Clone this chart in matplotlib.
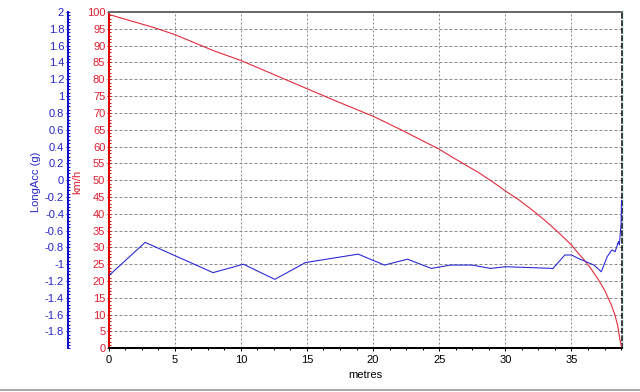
import matplotlib
matplotlib.use("Agg")
import matplotlib.pyplot as plt
from matplotlib.ticker import MultipleLocator
from matplotlib.lines import Line2D

plt.rcParams['font.family'] = ['Liberation Sans', 'DejaVu Sans']

# ---- data ----
dist_speed = [0, 3.5, 5, 8, 10, 12.8, 15, 17.4, 20, 21, 22, 23, 24, 25, 26, 27,
              28, 29, 30, 31, 32, 33, 34, 35, 35.5, 36, 36.5, 37, 37.5, 38,
              38.3, 38.5, 38.65, 38.78]
speed_kmh = [99.3, 95.3, 93.3, 88.4, 85.6, 80.9, 77.2, 73.2, 69.0, 67.1, 65.2,
             63.2, 61.2, 59.2, 56.8, 54.5, 52.2, 49.6, 46.8, 44.2, 41.2, 38.0,
             34.5, 30.7, 28.3, 26.1, 23.5, 20.6, 17.3, 13.0, 9.7, 6.6, 2.8, 0.5]

dist_acc = [0, 2.77, 7.9, 10.2, 12.57, 14.9, 18.87, 20.86, 22.6, 24.4, 25.85,
            27.5, 28.87, 30.0, 31.9, 33.6, 34.5, 35.0, 35.5, 36.7, 37.25, 37.7,
            38.05, 38.3, 38.55, 38.62, 38.75, 38.78]
long_acc = [-1.14, -0.74, -1.10, -1.00, -1.18, -0.98, -0.88, -1.01, -0.94,
            -1.05, -1.01, -1.01, -1.05, -1.03, -1.04, -1.05, -0.89, -0.89,
            -0.93, -1.01, -1.09, -0.91, -0.83, -0.85, -0.73, -0.77, -0.51, -0.24]

x_ticks = [0, 5, 10, 15, 20, 25, 30, 35]
kmh_ticks = list(range(0, 101, 5))
g_ticks = [2, 1.8, 1.6, 1.4, 1.2, 1, 0.8, 0.6, 0.4, 0.2, 0, -0.2, -0.4, -0.6,
           -0.8, -1, -1.2, -1.4, -1.6, -1.8]

BLUE = '#2424c8'
RED = '#dc1e32'
W, H = 640, 392
px = 72.0 / 100  # points per pixel

fig = plt.figure(figsize=(W / 100, H / 100), dpi=100)
L, R, T, B = 108.5, 621.5, 12.0, 348.3
ax = fig.add_axes([L / W, 1 - B / H, (R - L) / W, (B - T) / H])
ax.set_xlim(0, 38.78)
ax.set_ylim(0, 100)

# grid
for xv in x_ticks[1:]:
    ax.axvline(xv, color='#8c8c8c', lw=1 * px, ls=(0, (2, 2)), zorder=0.5)
for yv in kmh_ticks[1:-1]:
    ax.axhline(yv, color='#8c8c8c', lw=1 * px, ls=(0, (3, 2)), zorder=0.5)

ax.plot(dist_speed, speed_kmh, color='#e02a3a', lw=1.1 * px, zorder=3)

# main axis styling
ax.spines['left'].set_color('#e00000')
ax.spines['left'].set_linewidth(2 * px)
ax.spines['bottom'].set_color('black')
ax.spines['bottom'].set_linewidth(2 * px)
ax.spines['top'].set_color('#6a6a6a')
ax.spines['top'].set_linewidth(2 * px)
ax.spines['right'].set_color('black')
ax.spines['right'].set_linewidth(1.5 * px)
ax.spines['right'].set_linestyle((0, (3, 2)))

ax.set_yticks(kmh_ticks, labels=[str(v) for v in kmh_ticks])
ax.yaxis.set_minor_locator(MultipleLocator(1))
ax.tick_params(axis='y', which='major', direction='inout', length=5 * px,
               width=1 * px, color='#e00000', labelcolor=RED, labelsize=8, pad=0.5)
ax.tick_params(axis='y', which='minor', direction='inout', length=3 * px,
               width=1 * px, color='#e00000')

ax.set_xticks(x_ticks, labels=[str(v) for v in x_ticks])
ax.xaxis.set_minor_locator(MultipleLocator(1.25))
ax.tick_params(axis='x', which='major', direction='out', length=3 * px,
               width=1 * px, color='black', labelsize=8, pad=3)
ax.tick_params(axis='x', which='minor', direction='out', length=2 * px,
               width=1 * px, color='black')
ax.set_xlabel('metres', fontsize=8, labelpad=3)

# secondary (blue) axis on the left, offset
ax2 = ax.twinx()
ax2.set_ylim(-2, 2)
ax2.yaxis.set_ticks_position('left')
ax2.spines['left'].set_position(('outward', 40.5 * px))
ax2.spines['left'].set_visible(True)
ax2.spines['left'].set_color('#1010d0')
ax2.spines['left'].set_linewidth(2 * px)
for s in ['right', 'top', 'bottom']:
    ax2.spines[s].set_visible(False)
ax2.set_yticks(g_ticks, labels=[('%g' % v) for v in g_ticks])
ax2.yaxis.set_minor_locator(MultipleLocator(0.04))
ax2.tick_params(axis='y', which='major', direction='inout', length=5 * px,
                width=1 * px, color='#1010d0', labelcolor=BLUE, labelsize=8, pad=1)
ax2.tick_params(axis='y', which='minor', direction='inout', length=3 * px,
                width=1 * px, color='#1010d0')
ax2.plot(dist_acc, long_acc, color='#2a2ad4', lw=1.1 * px, zorder=3)

# axis titles
fig.text(36 / W, 1 - 182 / H, 'LongAcc (g)', rotation=90, color=BLUE,
         fontsize=8, ha='center', va='center')
fig.text(77 / W, 1 - 182 / H, 'km/h', rotation=90, color=RED,
         fontsize=8, ha='center', va='center')

# window edge lines
fig.add_artist(Line2D([0, 1], [1 - 390 / H, 1 - 390 / H], transform=fig.transFigure,
                      color='#a8a8a8', lw=2 * px))
fig.add_artist(Line2D([623 / W, 623 / W], [1 - 348 / H, 1 - 10 / H],
                      transform=fig.transFigure, color='#d8f4f4', lw=1 * px))

fig.savefig('out.png', dpi=100, facecolor='white')
